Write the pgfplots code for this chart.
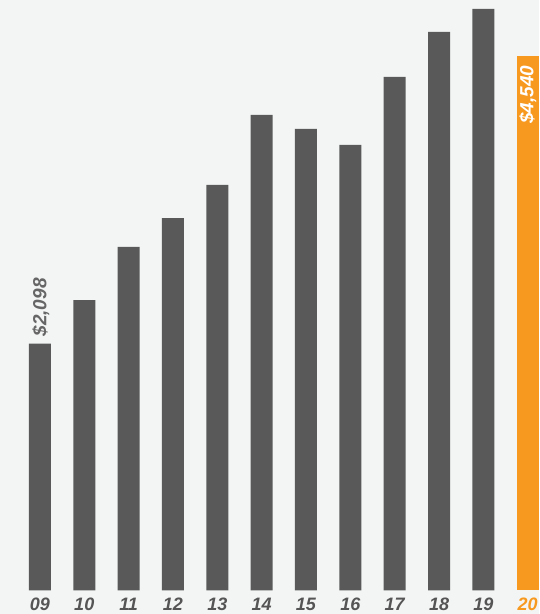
\documentclass[border=0pt]{standalone}
\usepackage{fontspec}
\setmainfont{Liberation Sans}
\usepackage{pgfplots}
\pgfplotsset{compat=1.18}
\definecolor{bg}{HTML}{F3F5F4}
\definecolor{bargray}{HTML}{595959}
\definecolor{barorange}{HTML}{F7981F}
\definecolor{labgray}{HTML}{555555}
\definecolor{valgray}{HTML}{666666}
\begin{document}
\begin{tikzpicture}[x=1pt,y=1pt]
\fill[bg] (0,0) rectangle (539,614);
\begin{axis}[
  at={(0pt,23.5pt)}, anchor=south west,
  scale only axis, width=539pt, height=590.5pt,
  xmin=-0.9, xmax=11.254, ymin=0, ymax=5019,
  axis line style={draw=none}, tick style={draw=none},
  ytick=\empty,
  xtick={0,...,11},
  xticklabels={09,10,11,12,13,14,15,16,17,18,19,{\color{barorange}20}},
  xticklabel style={anchor=base, yshift=-15.5pt, inner sep=0pt,
    font=\fontsize{18}{20}\selectfont\bfseries\itshape, text=labgray},
  clip=false,
  ybar, bar width=22pt,
]
\addplot[fill=bargray, draw=none, bar shift=0pt] coordinates {
  (0,2098) (1,2469) (2,2920) (3,3166) (4,3447) (5,4042)
  (6,3923) (7,3787) (8,4365) (9,4747) (10,4943)};
\addplot[fill=barorange, draw=none, bar shift=0pt] coordinates {(11,4540)};
\path (axis cs:0,2098) ++(1pt,7pt) node[rotate=90, anchor=west, inner sep=0pt, text=valgray,
  font=\fontsize{19}{22}\selectfont\bfseries\itshape] {\$2,098};
\path (axis cs:11,4540) ++(0pt,-9pt) node[rotate=90, anchor=east, inner sep=0pt, text=white,
  font=\fontsize{19}{22}\selectfont\bfseries\itshape] {\$4,540};
\end{axis}
\pgfresetboundingbox
\path (0,0) rectangle (539,614);
\end{tikzpicture}
\end{document}
